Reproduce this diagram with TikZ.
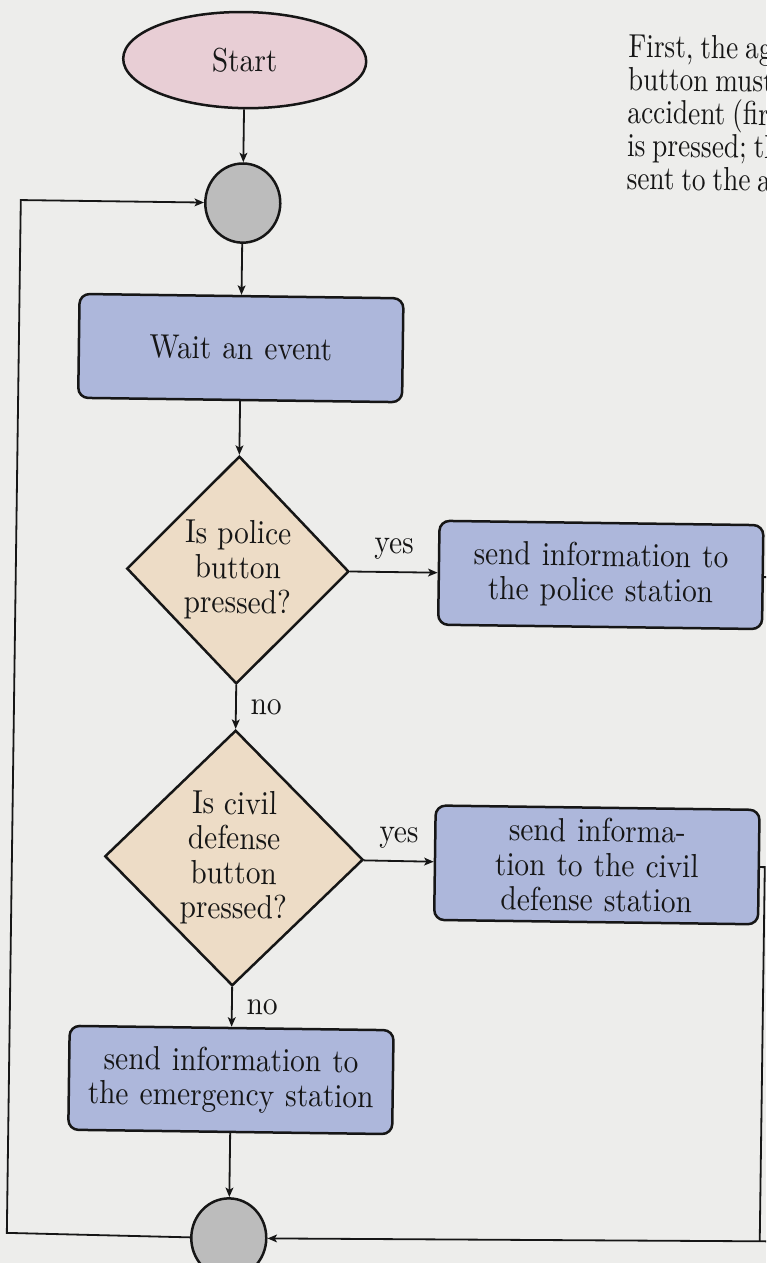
\documentclass[tikz,border=0pt]{standalone}
\usepackage{fontspec}
\setmainfont{lmroman10-regular.otf}[FakeStretch=0.88]
\newfontfamily\parafont{lmroman10-regular.otf}[FakeStretch=0.82, WordSpace=0.75]
\usetikzlibrary{shapes.geometric,arrows.meta}

\definecolor{paper}{RGB}{237,237,235}
\definecolor{ink}{RGB}{22,22,22}
\definecolor{startfill}{RGB}{232,206,213}
\definecolor{boxfill}{RGB}{173,183,219}
\definecolor{decfill}{RGB}{237,220,198}
\definecolor{joinfill}{RGB}{188,188,188}

\tikzset{
  txt/.style={font=\fontsize{12pt}{12.5pt}\selectfont, text=ink},
  base/.style={txt, draw=ink, line width=0.9pt},
  startnode/.style={base, ellipse, fill=startfill, minimum width=87.5pt, minimum height=34.6pt, inner sep=0pt},
  joinnode/.style={base, ellipse, fill=joinfill, minimum width=27pt, minimum height=28.5pt, inner sep=0pt},
  procbox/.style={base, rectangle, rounded corners=3.6pt, fill=boxfill,
    minimum width=116.6pt, minimum height=37.4pt, text width=112pt, align=center,
    inner xsep=2.3pt, inner ysep=3.8pt},
  decision/.style={base, diamond, fill=decfill, align=center, inner sep=1pt},
  flow/.style={draw=ink, line width=0.65pt, -{Stealth[length=3.4pt,width=2.8pt,inset=0.8pt]}},
  wire/.style={draw=ink, line width=0.65pt},
  lbl/.style={txt, inner sep=0pt},
  para/.style={font=\parafont\fontsize{12pt}{12pt}\selectfont, text=ink, inner sep=0pt, anchor=base west},
}

\begin{document}
\begin{tikzpicture}[x=0.36pt,y=-0.36pt]
  \fill[paper] (0,0) rectangle (766,1263);
  \useasboundingbox (0,0) rectangle (766,1263);
  \clip (0,0) rectangle (766,1263);

  \begin{scope}[rotate around={-0.775:(383,631)}, transform shape]
    % flowchart nodes
    \node[startnode] (start) at (237,62) {Start};
    \node[joinnode] (top) at (237,205) {};
    \node[procbox] (wait) at (237,350) {Wait an event};
    \node[decision, minimum width=80pt, minimum height=82pt] (police) at (237,572)
      {Is police\\button\\pressed?};
    \node[procbox] (sendpolice) at (600,572) {send information to\\the police station};
    \node[decision, minimum width=93pt, minimum height=92pt] (civil) at (237,860)
      {Is civil\\defense\\button\\pressed?};
    \node[procbox] (sendcivil) at (600,862) {send informa-\\tion to the civil\\defense station};
    \node[procbox] (sendemerg) at (237,1082) {send information to\\the emergency station};
    \node[joinnode] (bottom) at (237,1240) {};

    % routing points of the loop lines
    \coordinate (leftlow) at (15,1238);
    \coordinate (lefthigh) at (15,205);
    \coordinate (policeout) at (800,572);
    \coordinate (civilturn) at (768,862);
    \coordinate (civiljoin) at (768,1236);
    \coordinate (farright) at (800,1236);

    % main flow
    \draw[flow] (start) -- (top);
    \draw[flow] (top) -- (wait);
    \draw[flow] (wait) -- (police);
    \draw[flow] (police) -- node[lbl, above=4pt] (yes1) {yes} (sendpolice);
    \draw[flow] (police) -- node[lbl, right=5pt] (no1) {no} (civil);
    \draw[flow] (civil) -- node[lbl, above=4pt] (yes2) {yes} (sendcivil);
    \draw[flow] (civil) -- node[lbl, right=5pt] (no2) {no} (sendemerg);
    \draw[flow] (sendemerg) -- (bottom);

    % loop back to the top join
    \draw[flow] (bottom.west) -- (leftlow) -- (lefthigh) -- (top.west);

    % returns from the station boxes
    \draw[wire] (sendpolice.east) -- (policeout);
    \draw[wire] (sendcivil.east) -- (civilturn) -- (civiljoin);
    \draw[flow] (farright) -- (bottom.east);

    % text column beside the chart
    \node[para] (p1) at (620,54) {First, the agent};
    \node[para] (p2) at (620,87) {button must be};
    \node[para] (p3) at (620,120) {accident (fire};
    \node[para] (p4) at (620,153) {is pressed; the};
    \node[para] (p5) at (620,186) {sent to the agent};
  \end{scope}
\end{tikzpicture}
\end{document}
